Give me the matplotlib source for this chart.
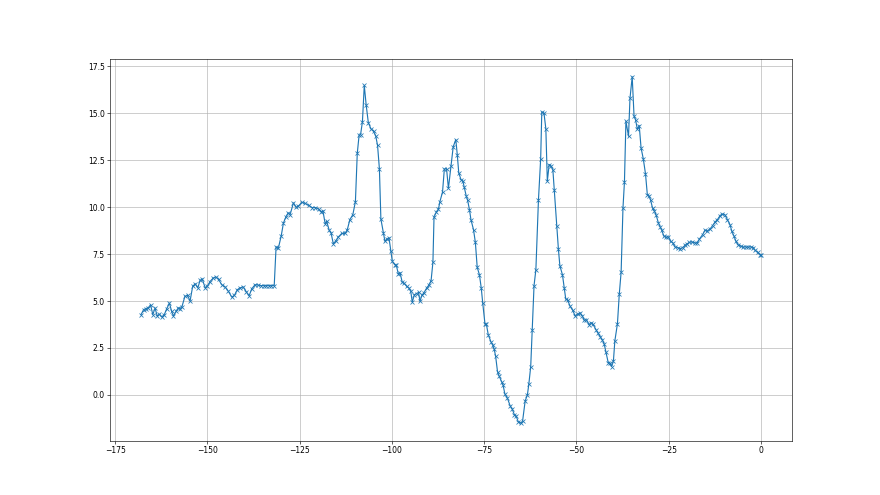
import matplotlib
matplotlib.use("Agg")
from matplotlib import pyplot as plt

# readings taken off the reference curve
x = [-168.0, -167.3, -166.6, -166.0, -165.4, -164.8, -164.2, -163.6, -163.0, -162.4,
     -161.7, -161.0, -160.3, -159.7, -159.2, -158.5, -157.9, -157.4, -156.9, -156.1,
     -155.4, -154.7, -154.0, -153.3, -152.6, -152.0, -151.4, -150.6, -150.0, -149.3,
     -148.4, -147.7, -147.0, -146.1, -145.2, -144.3, -143.4, -142.7, -141.9, -141.2,
     -140.3, -139.5, -138.7, -138.0, -137.1, -136.2, -135.5, -134.8, -134.1, -133.4,
     -132.7, -131.9, -131.4, -130.8, -130.0, -129.4, -128.7, -128.1, -127.6, -126.7,
     -126.0, -125.4, -124.4, -123.5, -122.6, -121.7, -120.8, -119.9, -119.2, -118.7,
     -118.1, -117.7, -117.0, -116.5, -115.9, -115.2, -114.6, -113.6, -112.7, -112.1,
     -111.4, -110.6, -109.9, -109.4, -108.9, -108.5, -108.0, -107.5, -107.0, -106.4,
     -105.7, -105.0, -104.4, -103.9, -103.4, -103.0, -102.3, -101.9, -101.4, -100.8,
     -100.3, -99.9, -99.2, -98.8, -98.3, -97.8, -97.2, -96.7, -96.0, -95.4,
     -94.9, -94.5, -93.9, -93.3, -92.8, -92.4, -91.9, -91.3, -90.6, -90.0,
     -89.4, -88.9, -88.6, -88.0, -87.4, -87.0, -86.3, -85.8, -85.2, -84.7,
     -84.0, -83.4, -82.7, -82.3, -81.9, -81.3, -80.8, -80.4, -79.9, -79.5,
     -79.0, -78.6, -77.9, -77.4, -76.9, -76.3, -75.8, -75.4, -74.8, -74.4,
     -73.9, -73.2, -72.7, -72.3, -71.9, -71.4, -70.9, -70.3, -69.9, -69.4,
     -68.7, -68.0, -67.4, -66.8, -66.4, -65.8, -65.1, -64.6, -63.9, -63.3,
     -62.9, -62.4, -62.0, -61.5, -61.0, -60.3, -59.7, -59.4, -58.8, -58.3,
     -57.9, -57.4, -56.9, -56.4, -56.0, -55.3, -54.9, -54.5, -53.8, -53.3,
     -52.9, -52.4, -51.7, -51.0, -50.4, -49.7, -49.0, -48.4, -47.9, -47.3,
     -46.6, -46.1, -45.5, -44.7, -44.2, -43.6, -43.0, -42.5, -42.0, -41.4,
     -41.0, -40.5, -40.0, -39.6, -38.9, -38.4, -37.9, -37.4, -37.0, -36.6,
     -35.9, -35.5, -34.9, -34.4, -34.0, -33.5, -33.0, -32.5, -31.9, -31.3,
     -30.8, -30.3, -29.9, -29.4, -28.9, -28.4, -27.8, -27.3, -26.9, -26.3,
     -25.7, -25.1, -24.5, -23.9, -23.3, -22.6, -21.9, -21.2, -20.6, -20.0,
     -19.4, -18.6, -18.0, -17.3, -16.7, -15.8, -15.2, -14.6, -13.8, -13.1,
     -12.5, -11.8, -11.1, -10.5, -9.8, -9.1, -8.4, -7.9, -7.3, -6.8,
     -6.2, -5.4, -4.8, -4.1, -3.5, -2.7, -2.1, -1.6, -0.9, -0.3,
     0.0]

y = [4.27, 4.54, 4.6, 4.65, 4.8, 4.27, 4.63, 4.2, 4.3, 4.15,
     4.27, 4.6, 4.89, 4.45, 4.2, 4.45, 4.63, 4.6, 4.7, 5.25,
     5.3, 5.0, 5.78, 5.92, 5.7, 6.1, 6.17, 5.7, 5.8, 6.04,
     6.23, 6.28, 6.15, 5.87, 5.75, 5.51, 5.21, 5.3, 5.6, 5.7,
     5.75, 5.5, 5.28, 5.65, 5.87, 5.85, 5.82, 5.82, 5.82, 5.82,
     5.82, 5.82, 7.88, 7.8, 8.48, 9.16, 9.5, 9.7, 9.6, 10.23,
     10.0, 10.05, 10.26, 10.2, 10.1, 9.98, 9.98, 9.9, 9.75, 9.8,
     9.12, 9.25, 8.77, 8.63, 8.06, 8.2, 8.4, 8.6, 8.6, 8.8,
     9.34, 9.6, 10.3, 12.86, 13.84, 13.87, 14.55, 16.49, 15.47, 14.5,
     14.18, 14.05, 13.8, 13.29, 12.04, 9.37, 8.63, 8.18, 8.3, 8.36,
     7.65, 7.11, 6.94, 6.9, 6.46, 6.5, 5.99, 5.95, 5.78, 5.69,
     5.51, 4.95, 5.34, 5.4, 5.46, 4.98, 5.3, 5.45, 5.69, 5.85,
     6.08, 7.06, 9.48, 9.73, 9.9, 10.3, 10.8, 12.04, 12.04, 11.0,
     12.18, 13.22, 13.6, 12.8, 11.83, 11.47, 11.4, 11.06, 10.62, 10.37,
     9.87, 9.34, 8.8, 8.13, 6.8, 6.4, 5.69, 4.89, 3.79, 3.75,
     3.2, 2.84, 2.65, 2.44, 2.05, 1.24, 0.98, 0.71, 0.53, 0.05,
     -0.18, -0.57, -0.76, -1.07, -1.1, -1.42, -1.51, -1.39, -0.32, 0.0,
     0.59, 1.51, 3.47, 5.82, 6.67, 10.4, 12.58, 15.07, 15.0, 14.18,
     11.38, 12.27, 12.2, 12.0, 10.89, 8.98, 7.77, 6.88, 6.4, 5.69,
     5.1, 5.05, 4.71, 4.5, 4.22, 4.3, 4.36, 4.2, 3.97, 4.0,
     3.74, 3.85, 3.75, 3.47, 3.3, 3.11, 2.93, 2.72, 2.26, 1.72,
     1.7, 1.51, 1.78, 2.88, 3.79, 5.37, 6.55, 9.96, 11.35, 14.58,
     13.78, 15.8, 16.95, 14.85, 14.67, 14.14, 14.35, 13.16, 12.58, 11.78,
     10.67, 10.6, 10.37, 9.96, 9.8, 9.57, 9.16, 8.95, 8.77, 8.45,
     8.4, 8.42, 8.18, 8.1, 7.88, 7.85, 7.79, 7.85, 7.97, 8.05,
     8.13, 8.15, 8.1, 8.09, 8.3, 8.54, 8.77, 8.73, 8.84, 9.02,
     9.2, 9.34, 9.55, 9.64, 9.6, 9.34, 9.07, 8.71, 8.45, 8.18,
     8.0, 7.91, 7.88, 7.88, 7.88, 7.88, 7.85, 7.7, 7.59, 7.47,
     7.45]

fig = plt.figure(figsize=(16, 9), dpi=55)
plt.plot(x, y, marker='x')
plt.grid(True)

plt.savefig('out.png', dpi=55)
